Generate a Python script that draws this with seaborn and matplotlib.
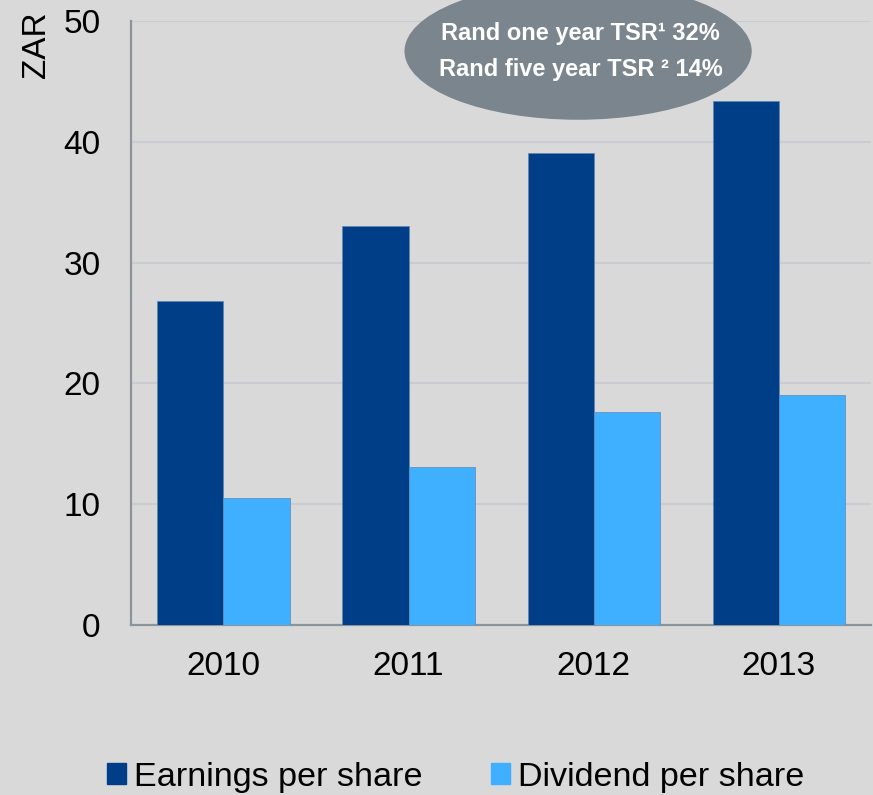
import pandas as pd
import numpy as np
import matplotlib.pyplot as plt
import seaborn as sns
from matplotlib.patches import Ellipse

years = ['2010', '2011', '2012', '2013']
earnings = [26.8, 33.0, 39.1, 43.4]
dividend = [10.5, 13.1, 17.6, 19.0]
series = ['Earnings per share', 'Dividend per share']
colors = ['#003f87', '#3fb0ff']
tsr_lines = ['Rand one year TSR\u00b9 32%', 'Rand five year TSR \u00b2 14%']

df = pd.DataFrame({
    'year': years * 2,
    'value': earnings + dividend,
    'series': [series[0]] * len(years) + [series[1]] * len(years),
})

sns.set_theme(style='white')
plt.rcParams['font.family'] = ['Liberation Sans', 'DejaVu Sans']
bg = '#d9d9d9'

fig = plt.figure(figsize=(8.73, 7.95), dpi=100, facecolor=bg)
ax = fig.add_axes([0.150, 0.2138, 0.848, 0.7598])
ax.set_facecolor(bg)

sns.barplot(data=df, x='year', y='value', hue='series', palette=colors,
            width=0.714, gap=0, saturation=1, ax=ax, legend=False,
            edgecolor='#5f86b3', linewidth=0.5, zorder=3)

ax.set_xlim(-0.5, 3.5)
ax.set_ylim(0, 50)
ax.set_yticks([0, 10, 20, 30, 40, 50])
ax.set_xlabel('')
ax.set_ylabel('')
ax.grid(axis='y', color='#c9cdd2', linewidth=1.5, zorder=0)
ax.set_axisbelow(True)
for s in ['top', 'right']:
    ax.spines[s].set_visible(False)
for s in ['left', 'bottom']:
    ax.spines[s].set_color('#8a949b')
    ax.spines[s].set_linewidth(1.6)
ax.tick_params(axis='x', length=0, pad=19, labelsize=24, labelcolor='black')
ax.tick_params(axis='y', length=0, pad=22, labelsize=24, labelcolor='black')

fig.text(36 / 873, 1 - 45 / 795, 'ZAR', rotation=90, ha='center', va='center',
         fontsize=24, color='black')

# TSR callout
ell = Ellipse((1.916, 47.5), 1.876, 11.35, facecolor='#7a858d', edgecolor='none',
              clip_on=False, zorder=5)
ax.add_patch(ell)
ax.text(1.93, 49.0, tsr_lines[0], ha='center', va='center', color='white',
        fontsize=17, fontweight='bold', zorder=6, clip_on=False)
ax.text(1.93, 45.95, tsr_lines[1], ha='center', va='center', color='white',
        fontsize=17, fontweight='bold', zorder=6, clip_on=False)

handles = [plt.Rectangle((0, 0), 1, 1, color=c) for c in colors]
fig.legend(handles, series, loc='center', bbox_to_anchor=(0.522, 0.0226), ncol=2,
           frameon=False, fontsize=24.6, labelcolor='black', handlelength=0.55,
           handleheight=0.55, handletextpad=0.25, columnspacing=2.0)

fig.savefig('out.png', dpi=100, facecolor=bg)
